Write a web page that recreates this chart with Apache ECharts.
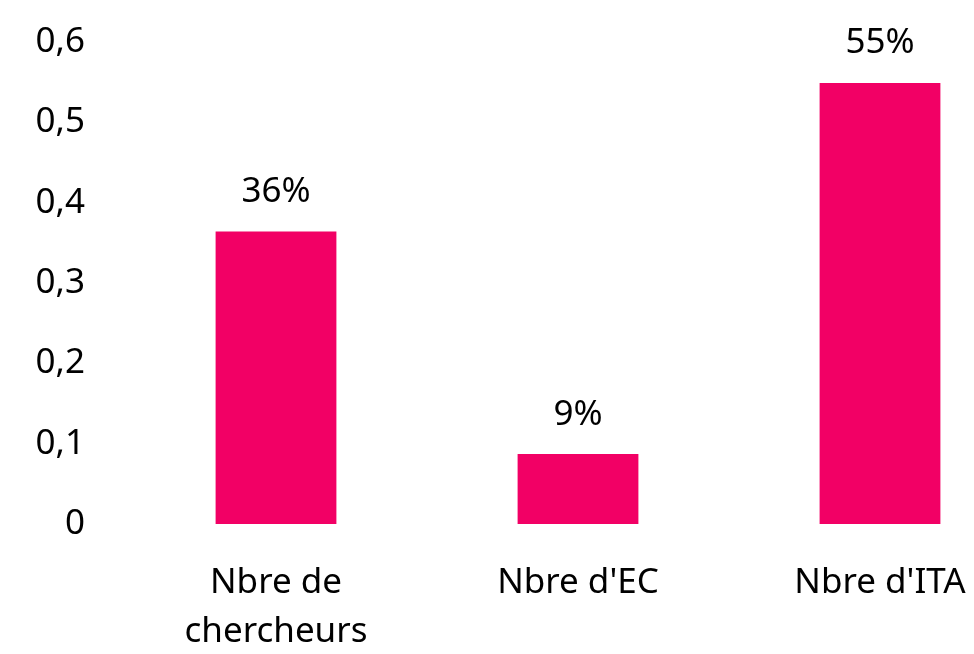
<!DOCTYPE html>
<html>
<head>
<meta charset="utf-8">
<script src="https://cdn.jsdelivr.net/npm/echarts@6/dist/echarts.min.js"></script>
<style>
  html, body { margin: 0; padding: 0; background: #fff; }
  #chart { width: 974px; height: 654px; }
</style>
</head>
<body>
<div id="chart"></div>
<script>
// données
const categories = ["Nbre de\nchercheurs", "Nbre d'EC", "Nbre d'ITA"];
const values = [0.364, 0.087, 0.549];

const fontFamily = "Noto Sans";
const fontSize = 35;
const barColor = "#F20065";

const chart = echarts.init(document.getElementById("chart"));
const option = {
  animation: false,
  grid: {
    left: 125,
    top: 42,
    right: -57,
    bottom: 130,
    outerBoundsMode: "none",
  },
  xAxis: {
    type: "category",
    data: categories,
    axisLine: { show: false },
    axisTick: { show: false },
    axisLabel: {
      color: "#000",
      fontSize: fontSize,
      fontFamily: fontFamily,
      lineHeight: 49,
      margin: 35,
      interval: 0,
    },
  },
  yAxis: {
    type: "value",
    min: 0,
    max: 0.6,
    interval: 0.1,
    splitLine: { show: false },
    axisLine: { show: false },
    axisTick: { show: false },
    axisLabel: {
      color: "#000",
      fontSize: fontSize,
      fontFamily: fontFamily,
      margin: 40,
      formatter: (v) => (v === 0 ? "0" : v.toFixed(1).replace(".", ",")),
    },
  },
  series: [
    {
      type: "bar",
      data: values,
      barWidth: "40%",
      itemStyle: { color: barColor },
      label: {
        show: true,
        position: "top",
        distance: 22,
        color: "#000",
        fontSize: fontSize,
        fontFamily: fontFamily,
        formatter: (p) => Math.round(p.value * 100) + "%",
      },
    },
  ],
};
chart.setOption(option);
</script>
</body>
</html>
